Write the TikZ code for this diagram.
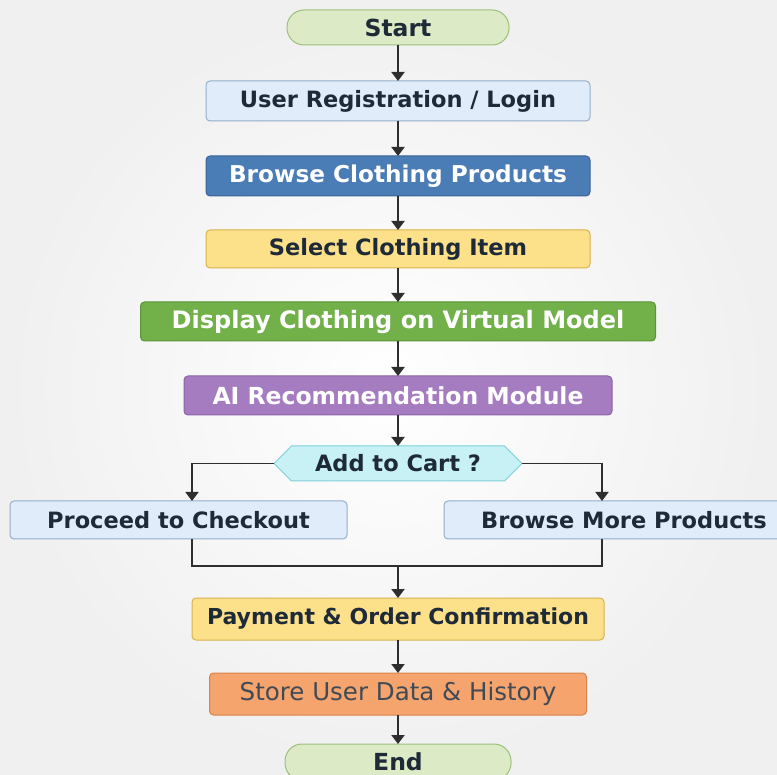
\documentclass[tikz,border=0pt]{standalone}
\usepackage{fontspec}
\setmainfont{DejaVu Sans}
\usepackage{xcolor}
\definecolor{inkdark}{HTML}{1E2A38}
\definecolor{arrowgray}{HTML}{2E2E2E}
\definecolor{startfill}{HTML}{DCEBC6}
\definecolor{startdraw}{HTML}{9CBF7A}
\definecolor{paleblue}{HTML}{E0ECF9}
\definecolor{paleblued}{HTML}{94AECB}
\definecolor{steelblue}{HTML}{4A7CB5}
\definecolor{steelblued}{HTML}{3A6496}
\definecolor{softyellow}{HTML}{FCE08A}
\definecolor{softyellowd}{HTML}{D9B24A}
\definecolor{leafgreen}{HTML}{72B04A}
\definecolor{leafgreend}{HTML}{5A9438}
\definecolor{lilac}{HTML}{A57CC0}
\definecolor{lilacd}{HTML}{8A62A6}
\definecolor{palecyan}{HTML}{C8F1F5}
\definecolor{palecyand}{HTML}{7DD0DA}
\definecolor{peach}{HTML}{F4A46C}
\definecolor{peachd}{HTML}{D9834A}
\usepackage{tikz}
\usetikzlibrary{shapes.symbols, arrows.meta, positioning, calc}
\tikzset{
  fbox/.style ={rectangle, rounded corners=4pt, line width=1pt, align=center, inner sep=4pt, outer sep=0pt,
                minimum height=40pt, font=\fontsize{22.5}{26}\selectfont\bfseries, text=inkdark},
  fboxl/.style={fbox, draw=paleblued, fill=paleblue},
  fboxb/.style={fbox, draw=steelblued, fill=steelblue, text=white, font=\fontsize{23.2}{26}\selectfont\bfseries},
  fboxy/.style={fbox, draw=softyellowd, fill=softyellow},
  fboxg/.style={fbox, draw=leafgreend, fill=leafgreen, text=white, font=\fontsize{24}{26}\selectfont\bfseries},
  fboxp/.style={fbox, draw=lilacd, fill=lilac, text=white, font=\fontsize{23.5}{26}\selectfont\bfseries},
  fboxo/.style={fbox, draw=peachd, fill=peach, font=\fontsize{24.5}{26}\selectfont, text=inkdark!85},
  fterm/.style={rectangle, rounded corners=17pt, draw=startdraw, fill=startfill, line width=1pt, outer sep=0pt,
                minimum width=222pt, minimum height=35pt, font=\fontsize{23.5}{26}\selectfont\bfseries, text=inkdark},
  fdecide/.style={signal, signal to=west and east, signal pointer angle=90, draw=palecyand, fill=palecyan,
                line width=1pt, outer sep=0pt, minimum width=248pt, minimum height=35pt, inner sep=2pt,
                font=\fontsize{22.5}{24}\selectfont\bfseries, text=inkdark},
  farr/.style ={-{Triangle[length=9pt, width=13pt]}, line width=2pt, color=arrowgray},
  farrt/.style={farr, line width=1.6pt},
  fline/.style={line width=1.6pt, color=arrowgray},
}
\begin{document}
\begin{tikzpicture}[x=1pt, y=1pt]
  \useasboundingbox (0,0) rectangle (777,-775);
  \shade[inner color=white, outer color=black!6] (0,0) rectangle (777,-775);

  \node[fterm] (start) at (398,-27.5) {Start};
  \node[fboxl, minimum width=384pt, below=36pt of start] (login) {User Registration / Login};
  \node[fboxb, minimum width=384pt, below=35pt of login] (browse) {Browse Clothing Products};
  \node[fboxy, minimum width=384pt, minimum height=38pt, below=34pt of browse] (select) {Select Clothing Item};
  \node[fboxg, minimum width=515pt, minimum height=39pt, below=34pt of select] (model) {Display Clothing on Virtual Model};
  \node[fboxp, minimum width=428pt, minimum height=39pt, below=35pt of model] (recom) {AI Recommendation Module};
  \node[fdecide, below=31pt of recom] (cart) {Add to Cart ?};
  \node[fboxl, minimum width=337pt, minimum height=38pt] (chk) at (178.5,-520) {Proceed to Checkout};
  \node[fboxl, minimum width=360pt, minimum height=38pt] (more) at (624,-520) {Browse More Products};
  \node[fboxy, minimum width=412pt, minimum height=42pt, font=\fontsize{22}{26}\selectfont\bfseries,
        below=117pt of cart] (pay) {Payment \& Order Confirmation};
  \node[fboxo, minimum width=377pt, minimum height=42pt, below=33pt of pay] (store) {Store User Data \& History};
  \node[fterm, minimum width=226pt, minimum height=36pt, below=29pt of store] (end) {End};

  \draw[farr] (start) -- (login);
  \draw[farr] (login) -- (browse);
  \draw[farr] (browse) -- (select);
  \draw[farr] (select) -- (model);
  \draw[farr] (model) -- (recom);
  \draw[farr] (recom) -- (cart);
  % branches of the decision
  \draw[farrt] (cart.west) -| ($(chk.north)+(13.5,0)$);
  \draw[farrt] (cart.east) -| ($(more.north)+(-22,0)$);
  % both branches join above the payment
  \coordinate (join) at ($(pay.north)+(0,32)$);
  \draw[fline] ($(chk.south)+(13.5,0)$) |- (join);
  \draw[fline] ($(more.south)+(-22,0)$) |- (join);
  \draw[farr] (join) -- (pay);
  \draw[farr] (pay) -- (store);
  \draw[farr] (store) -- (end);
\end{tikzpicture}
\end{document}
